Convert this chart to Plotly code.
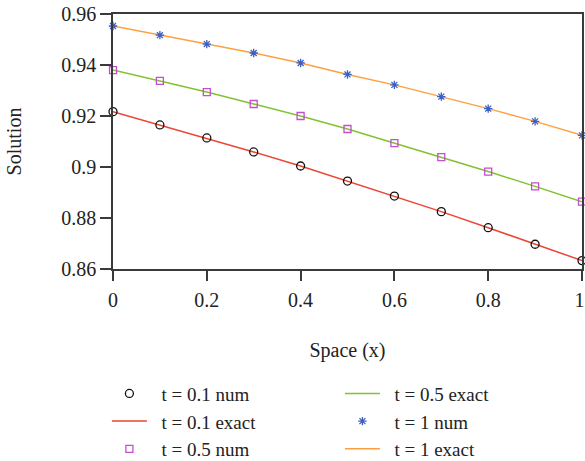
import plotly.graph_objects as go

x = [0, 0.1, 0.2, 0.3, 0.4, 0.5, 0.6, 0.7, 0.8, 0.9, 1.0]
t01 = [0.9217, 0.9165, 0.9114, 0.9059, 0.9004, 0.8945, 0.8886, 0.8825, 0.8762, 0.8697, 0.8633]
t05 = [0.9380, 0.9338, 0.9294, 0.9247, 0.9200, 0.9149, 0.9094, 0.9039, 0.8982, 0.8924, 0.8864]
t1 = [0.9553, 0.9517, 0.9482, 0.9447, 0.9408, 0.9363, 0.9322, 0.9276, 0.9229, 0.9179, 0.9124]

y_ticks = [0.86, 0.88, 0.9, 0.92, 0.94, 0.96]
y_ticklabels = ["0.86", "0.88", "0.9", "0.92", "0.94", "0.96"]
x_ticks = [0, 0.2, 0.4, 0.6, 0.8, 1]
x_ticklabels = ["0", "0.2", "0.4", "0.6", "0.8", "1\u00a0"]

FONT = "Liberation Serif"
AX = "#3a3a3a"
TXT = "#222222"
PAD = "\u00a0\u00a0"

fig = go.Figure()

def exact(name, y, color, rank):
    fig.add_trace(go.Scatter(x=x, y=y, mode="lines", name=PAD + name,
                             line=dict(color=color, width=1.5),
                             legendrank=rank, cliponaxis=False))

def num(name, y, symbol, color, size, rank):
    fig.add_trace(go.Scatter(x=x, y=y, mode="markers", name=PAD + name,
                             marker=dict(symbol=symbol, size=size, color=color,
                                         line=dict(color=color, width=1.3)),
                             legendrank=rank, cliponaxis=False))

exact("t = 0.1 exact", t01, "#ee4433", 3)
exact("t = 0.5 exact", t05, "#82c22e", 2)
exact("t = 1 exact", t1, "#ffa040", 6)
num("t = 0.1 num", t01, "circle-open", "#111111", 8, 1)
num("t = 0.5 num", t05, "square-open", "#c24fd0", 7, 5)
num("t = 1 num", t1, "asterisk-open", "#3c60c0", 7, 4)

fig.update_layout(
    width=585, height=461,
    margin=dict(l=113, r=3, t=14, b=192, autoexpand=False),
    paper_bgcolor="white", plot_bgcolor="white",
    font=dict(family=FONT, size=20, color=TXT),
    showlegend=True,
    legend=dict(orientation="h", x=-0.013, xanchor="left", y=-0.414, yanchor="top",
                entrywidth=183, entrywidthmode="pixels",
                font=dict(family=FONT, size=19, color=TXT),
                bgcolor="rgba(0,0,0,0)", tracegroupgap=0, itemwidth=35),
)
fig.update_xaxes(range=[0, 1], tickvals=x_ticks, ticktext=x_ticklabels, automargin=False,
                 showgrid=False, zeroline=False, showline=True, linecolor=AX, linewidth=1.5,
                 mirror=True, ticks="outside", ticklen=10, tickwidth=1.5, tickcolor=AX,
                 ticklabelstandoff=2, ticklabeloverflow="allow",
                 tickfont=dict(family=FONT, size=20, color=TXT),
                 title=dict(text="Space (x)", standoff=33, font=dict(family=FONT, size=20, color=TXT)))
fig.update_yaxes(range=[0.86, 0.96], tickvals=y_ticks, ticktext=y_ticklabels, automargin=False,
                 showgrid=False, zeroline=False, showline=True, linecolor=AX, linewidth=1.5,
                 mirror=True, ticks="outside", ticklen=11, tickwidth=1.5, tickcolor=AX,
                 ticklabeloverflow="allow",
                 tickfont=dict(family=FONT, size=20, color=TXT),
                 title=dict(text="Solution", standoff=34, font=dict(family=FONT, size=20, color=TXT)))

fig.write_html("out.html", config={"displayModeBar": False},
               post_script="document.body.style.margin='0';")
